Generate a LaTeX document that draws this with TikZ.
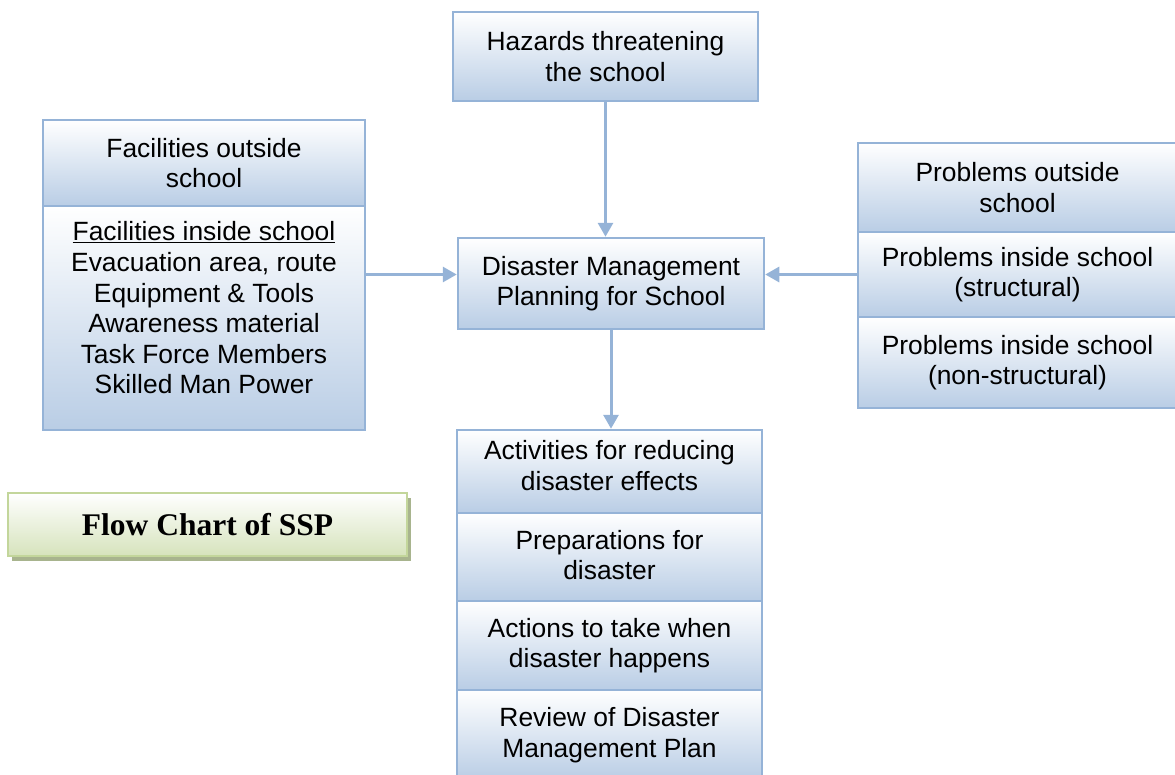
\documentclass[tikz,border=0pt]{standalone}
\usepackage{fontspec}
\setmainfont{Liberation Sans}
\newfontfamily\titlefont{Liberation Serif}
\usetikzlibrary{arrows.meta,shadows}
\definecolor{boxline}{RGB}{149,179,215}
\definecolor{boxfill}{RGB}{185,205,229}
\definecolor{tline}{RGB}{195,214,155}
\definecolor{tfill}{RGB}{214,227,188}
\definecolor{tshadow}{RGB}{168,180,142}
\begin{document}
\begin{tikzpicture}[x=1pt,y=-1pt,
  box/.style={draw=boxline, line width=2.5pt, top color=white, bottom color=boxfill,
    align=center, inner sep=0pt, font=\fontsize{26.4}{30.6}\selectfont},
  txt/.style={align=center, inner sep=0pt, font=\fontsize{26.4}{30.6}\selectfont},
  arr/.style={draw=boxline, line width=3pt, -{Triangle[width=15pt,length=14pt]}},
  titlebox/.style={draw=tline, line width=2.5pt, top color=white, bottom color=tfill,
    inner sep=0pt, font=\titlefont\bfseries\fontsize{31.5}{36}\selectfont,
    drop shadow={shadow xshift=4pt, shadow yshift=-5pt, fill=tshadow, opacity=1}}]
\useasboundingbox (0,0) rectangle (1175,774);

% central column
\node[box, minimum width=305pt, minimum height=89pt] (haz) at (605.5,56.5)
  {Hazards threatening\\the school};
\node[box, minimum width=306pt, minimum height=91pt] (dm) at (611,283.5)
  {Disaster Management\\Planning for School};

% facilities (left)
\node[box, minimum width=322pt, minimum height=86pt] (fo) at (204,163)
  {Facilities outside\\school};
\node[box, minimum width=322pt, minimum height=224pt] (fi) at (204,318) {};
\node[txt] (fitext) at (204,308)
  {\underline{Facilities inside school}\\Evacuation area, route\\Equipment \& Tools\\
   Awareness material\\Task Force Members\\Skilled Man Power};

% problems (right)
\node[box, minimum width=319pt, minimum height=89pt] (po) at (1017.5,187.5)
  {Problems outside\\school};
\node[box, minimum width=319pt, minimum height=85pt] (ps) at (1017.5,274.5)
  {Problems inside school\\(structural)};
\node[box, minimum width=319pt, minimum height=91pt] (pn) at (1017.5,362.5)
  {Problems inside school\\(non-structural)};

% plan contents (bottom)
\node[box, minimum width=305pt, minimum height=83pt] (act) at (609.5,471.5) {};
\node[txt] (acttext) at (609.5,465.5) {Activities for reducing\\disaster effects};
\node[box, minimum width=305pt, minimum height=88pt] (prep) at (609.5,557) {};
\node[txt] (preptext) at (609.5,555) {Preparations for\\disaster};
\node[box, minimum width=305pt, minimum height=89pt] (acts) at (609.5,645.5)
  {Actions to take when\\disaster happens};
\node[box, minimum width=305pt, minimum height=90pt] (rev) at (609.5,735)
  {Review of Disaster\\Management Plan};

% title
\node[titlebox, minimum width=399pt, minimum height=63pt] (title) at (207.5,524.5)
  {Flow Chart of SSP};

% connectors
\draw[arr] (haz.south) -- (haz.south |- dm.north);
\draw[arr] (dm.south) -- (dm.south |- act.north);
\draw[arr] (fi.east |- ps.west) -- (dm.west |- ps.west);
\draw[arr] (ps.west) -- (ps.west -| dm.east);
\end{tikzpicture}
\end{document}
